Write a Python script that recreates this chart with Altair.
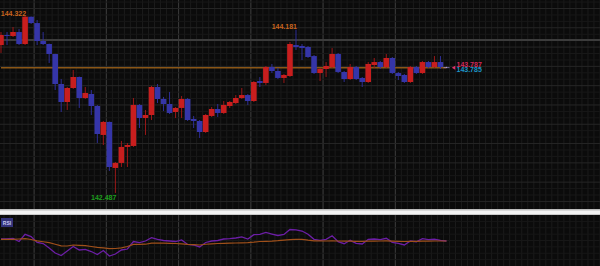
import altair as alt
import pandas as pd
import numpy as np

# ---------------- data ----------------
opens = [144.021, 144.125, 144.115, 144.156, 144.032, 144.315, 144.249, 144.063, 144.032, 143.928,
         143.617, 143.431, 143.576, 143.690, 143.472, 143.514, 143.389, 143.089, 143.224, 142.747,
         142.799, 142.965, 142.975, 143.400, 143.265, 143.296, 143.586, 143.462, 143.410, 143.327,
         143.369, 143.462, 143.255, 143.234, 143.120, 143.286, 143.358, 143.317, 143.389, 143.420,
         143.472, 143.503, 143.441, 143.648, 143.628, 143.793, 143.752, 143.680, 143.700, 144.021,
         144.011, 144.001, 143.907, 143.731, 143.773, 143.793, 143.928, 143.742, 143.669, 143.793,
         143.680, 143.638, 143.814, 143.845, 143.793, 143.887, 143.731, 143.711, 143.638, 143.793,
         143.731, 143.845, 143.793, 143.845, 143.787]
highs = [144.156, 144.156, 144.208, 144.187, 144.322, 144.317, 144.281, 144.156, 144.036, 143.930,
         143.669, 143.586, 143.762, 143.695, 143.586, 143.555, 143.400, 143.234, 143.228, 142.809,
         143.027, 143.006, 143.472, 143.410, 143.348, 143.597, 143.617, 143.483, 143.534, 143.379,
         143.493, 143.472, 143.286, 143.244, 143.306, 143.379, 143.410, 143.441, 143.441, 143.503,
         143.576, 143.514, 143.648, 143.690, 143.804, 143.825, 143.783, 143.721, 144.053, 144.181,
         144.032, 144.011, 143.918, 143.783, 143.845, 143.990, 143.939, 143.752, 143.825, 143.804,
         143.690, 143.845, 143.887, 143.856, 143.928, 143.897, 143.742, 143.721, 143.804, 143.804,
         143.856, 143.856, 143.907, 143.907, 143.795]
lows = [143.939, 144.021, 144.104, 144.021, 144.021, 144.239, 144.021, 144.021, 143.835, 143.555,
        143.327, 143.348, 143.566, 143.369, 143.462, 143.296, 143.006, 142.985, 142.716, 142.487,
        142.757, 142.757, 142.965, 143.161, 143.089, 143.244, 143.420, 143.337, 143.306, 143.265,
        143.265, 143.234, 143.161, 143.058, 143.110, 143.275, 143.275, 143.306, 143.369, 143.410,
        143.462, 143.400, 143.431, 143.586, 143.607, 143.731, 143.669, 143.628, 143.690, 143.970,
        143.866, 143.887, 143.721, 143.648, 143.690, 143.783, 143.731, 143.638, 143.659, 143.659,
        143.586, 143.628, 143.783, 143.773, 143.783, 143.721, 143.659, 143.628, 143.628, 143.721,
        143.721, 143.783, 143.783, 143.773, 143.783]
closes = [144.125, 144.115, 144.156, 144.032, 144.315, 144.249, 144.063, 144.032, 143.928, 143.617,
          143.431, 143.576, 143.690, 143.472, 143.524, 143.389, 143.099, 143.224, 142.757, 142.799,
          142.965, 142.985, 143.400, 143.265, 143.296, 143.586, 143.462, 143.410, 143.317, 143.369,
          143.462, 143.244, 143.234, 143.120, 143.296, 143.358, 143.317, 143.400, 143.431, 143.472,
          143.503, 143.441, 143.638, 143.628, 143.793, 143.752, 143.680, 143.711, 144.032, 144.001,
          143.990, 143.897, 143.731, 143.773, 143.804, 143.928, 143.742, 143.669, 143.793, 143.669,
          143.638, 143.825, 143.845, 143.793, 143.887, 143.731, 143.700, 143.638, 143.793, 143.731,
          143.845, 143.793, 143.845, 143.793, 143.787]
rsi_values = [52.9, 52.9, 53.9, 48.0, 62.2, 57.8, 46.1, 44.1, 35.3, 25.5,
              20.6, 29.4, 38.2, 31.4, 32.7, 28.4, 22.5, 30.4, 19.6, 23.5,
              31.4, 33.3, 48.0, 45.7, 49.0, 55.5, 52.0, 50.0, 49.0, 48.0,
              51.0, 42.2, 41.2, 37.3, 46.1, 49.0, 50.0, 52.9, 53.5, 54.9,
              56.9, 52.9, 61.4, 62.2, 65.7, 62.7, 59.8, 61.8, 71.6, 71.0,
              68.6, 62.2, 52.4, 50.4, 52.4, 59.4, 47.6, 43.7, 50.4, 44.5,
              43.1, 52.4, 52.9, 51.6, 54.3, 46.5, 44.5, 41.2, 49.0, 47.6,
              53.5, 51.6, 52.4, 50.4, 49.0]
rsi_signal = [52.4, 52.4, 52.4, 52.9, 53.5, 52.0, 49.4, 47.5, 45.7, 42.7,
              39.6, 39.2, 41.2, 40.6, 39.8, 38.2, 36.7, 35.7, 34.1, 34.3,
              35.7, 38.2, 42.4, 42.5, 42.7, 44.7, 44.9, 44.7, 44.5, 44.1,
              43.3, 42.5, 42.0, 41.2, 42.7, 43.5, 44.1, 44.5, 44.9, 45.1,
              45.5, 45.7, 46.7, 48.0, 48.4, 48.8, 49.6, 50.8, 51.6, 52.2,
              52.2, 50.6, 49.4, 49.2, 49.0, 49.4, 49.0, 48.6, 48.8, 48.4,
              48.2, 48.6, 48.8, 49.0, 49.2, 48.8, 48.4, 48.0, 48.2, 48.2,
              48.6, 48.8, 49.0, 49.0, 49.0]
ref_levels = [144.073]
last_quote = [143.787, 143.785]      # bid, ask
hi_label_idx = [4, 49]
lo_label_idx = [19]

# ---------------- tables ----------------
n = len(opens)
candle_idx = list(range(n))
df = pd.DataFrame({"i": candle_idx, "open": opens, "high": highs, "low": lows,
                   "close": closes, "rsi": rsi_values, "signal": rsi_signal})
df["dir"] = np.where(df["close"] > df["open"], "up",
                     np.where(df["close"] < df["open"], "down", "flat"))

hi_df = pd.DataFrame({"i": hi_label_idx, "price": [highs[k] for k in hi_label_idx]})
hi_df["txt"] = hi_df["price"].map(lambda v: f"{v:.3f}")
lo_df = pd.DataFrame({"i": lo_label_idx, "price": [lows[k] for k in lo_label_idx]})
lo_df["txt"] = lo_df["price"].map(lambda v: f"{v:.3f}")
cur_df = pd.DataFrame({"start": [candle_idx[0]], "end": [candle_idx[-1]], "price": [last_quote[0]]})
ref_df = pd.DataFrame({"level": ref_levels})
bid_df = pd.DataFrame({"i": [candle_idx[-1]], "price": [last_quote[0]], "txt": [f"{last_quote[0]:.3f}"]})
ask_df = pd.DataFrame({"i": [candle_idx[-1]], "price": [last_quote[1]], "txt": [f"{last_quote[1]:.3f}"]})
one = pd.DataFrame({"k": [0]})

# background grid (decoration): one faint line per candle slot, a brighter one every 12 slots,
# price lines every 1/15 with a slightly brighter one every 0.2
vgrid_minor = pd.DataFrame({"g": np.arange(-0.5, 100, 1.0)})
vgrid_major = pd.DataFrame({"g": np.arange(5.5, 66, 12.0)})
pgrid = pd.DataFrame({"g": np.round(142.4 + np.arange(32) / 15, 4)})
pgrid["major"] = (np.abs(pgrid["g"] * 5 - np.round(pgrid["g"] * 5)) < 0.01)
rgrid = pd.DataFrame({"g": np.arange(12.5, 100, 12.5)})

# ---------------- scales ----------------
X_SCALE = alt.Scale(domain=[-0.166, 99.5], nice=False, zero=False, padding=0, range=[0, 600])
P_SCALE = alt.Scale(domain=[142.332, 144.488], nice=False, zero=False, padding=0, range=[208, 0])
R_SCALE = alt.Scale(domain=[0, 100], nice=False, zero=False, padding=0, range=[266, 215])

body_colors = alt.Scale(domain=["up", "down", "flat"], range=["#c81e1e", "#3535a8", "#a898d8"])
wick_colors = alt.Scale(domain=["up", "down", "flat"], range=["#9a1818", "#2e2e96", "#a898d8"])

FONT = "Liberation Sans"

# ---------------- grid ----------------
vg_minor = alt.Chart(vgrid_minor).mark_rule(color="#1b1b1b", strokeWidth=1).encode(
    x=alt.X("g:Q", scale=X_SCALE, axis=None))
vg_major = alt.Chart(vgrid_major).mark_rule(color="#3a3a3a", strokeWidth=1).encode(
    x=alt.X("g:Q", scale=X_SCALE, axis=None))
pg = alt.Chart(pgrid).mark_rule(strokeWidth=1).encode(
    y=alt.Y("g:Q", scale=P_SCALE, axis=None),
    stroke=alt.condition("datum.major", alt.value("#262626"), alt.value("#181818")))

# ---------------- price panel ----------------
ref_rule = alt.Chart(ref_df).mark_rule(color="#3c3c3c", strokeWidth=2).encode(
    x=alt.value(0), x2=alt.value(600),
    y=alt.Y("level:Q", scale=P_SCALE, axis=None))
cur_rule = alt.Chart(cur_df).mark_rule(color="#8a5616", strokeWidth=1.5).encode(
    x=alt.X("start:Q", scale=X_SCALE, axis=None), x2="end:Q",
    y=alt.Y("price:Q", scale=P_SCALE, axis=None))
wicks = alt.Chart(df).mark_rule(strokeWidth=1).encode(
    x=alt.X("i:Q", scale=X_SCALE, axis=None),
    y=alt.Y("low:Q", scale=P_SCALE, axis=None),
    y2="high:Q",
    stroke=alt.Stroke("dir:N", scale=wick_colors, legend=None))
bodies = alt.Chart(df).mark_bar(size=5.6, orient="vertical").encode(
    x=alt.X("i:Q", scale=X_SCALE, axis=None),
    y=alt.Y("open:Q", scale=P_SCALE, axis=None),
    y2="close:Q",
    fill=alt.Fill("dir:N", scale=body_colors, legend=None))
doji = alt.Chart(df).transform_filter("datum.open == datum.close").mark_tick(
    orient="horizontal", size=6, thickness=1, color="#a898d8").encode(
    x=alt.X("i:Q", scale=X_SCALE, axis=None),
    y=alt.Y("close:Q", scale=P_SCALE, axis=None))
hi_text = alt.Chart(hi_df).mark_text(
    align="right", baseline="alphabetic", dx=1, dy=-0.5, font=FONT, fontSize=7,
    fontWeight="bold", color="#c8641e").encode(
    x=alt.X("i:Q", scale=X_SCALE, axis=None),
    y=alt.Y("price:Q", scale=P_SCALE, axis=None), text="txt:N")
lo_text = alt.Chart(lo_df).mark_text(
    align="right", baseline="top", dx=1, dy=1, font=FONT, fontSize=7,
    fontWeight="bold", color="#1e9e1e").encode(
    x=alt.X("i:Q", scale=X_SCALE, axis=None),
    y=alt.Y("price:Q", scale=P_SCALE, axis=None), text="txt:N")
marker = alt.Chart(bid_df).mark_point(
    shape="triangle-left", filled=True, size=16, color="#e0306a", opacity=1, xOffset=7).encode(
    x=alt.X("i:Q", scale=X_SCALE, axis=None),
    y=alt.Y("price:Q", scale=P_SCALE, axis=None))
bid_text = alt.Chart(bid_df).mark_text(
    align="left", baseline="alphabetic", dx=10, dy=-1, font=FONT, fontSize=7,
    fontWeight="bold", color="#d2285a").encode(
    x=alt.X("i:Q", scale=X_SCALE, axis=None),
    y=alt.Y("price:Q", scale=P_SCALE, axis=None), text="txt:N")
ask_text = alt.Chart(ask_df).mark_text(
    align="left", baseline="top", dx=10, dy=-1.5, font=FONT, fontSize=7,
    fontWeight="bold", color="#1e96c8").encode(
    x=alt.X("i:Q", scale=X_SCALE, axis=None),
    y=alt.Y("price:Q", scale=P_SCALE, axis=None), text="txt:N")

price = alt.layer(vg_minor, vg_major, pg, ref_rule, cur_rule, wicks, bodies, doji,
                  hi_text, lo_text, marker, bid_text, ask_text)

# ---------------- RSI panel ----------------
rg = alt.Chart(rgrid).mark_rule(color="#171717", strokeWidth=1).encode(
    y=alt.Y("g:Q", scale=R_SCALE, axis=None))
rsi_line = alt.Chart(df).mark_line(color="#6c1ea6", strokeWidth=1.3).encode(
    x=alt.X("i:Q", scale=X_SCALE, axis=None),
    y=alt.Y("rsi:Q", scale=R_SCALE, axis=None))
sig_line = alt.Chart(df).mark_line(color="#a0501a", strokeWidth=1.2).encode(
    x=alt.X("i:Q", scale=X_SCALE, axis=None),
    y=alt.Y("signal:Q", scale=R_SCALE, axis=None))
rsi_box = alt.Chart(one).mark_rect(fill="#33337a").encode(
    x=alt.value(1), x2=alt.value(13), y=alt.value(218), y2=alt.value(227))
rsi_lbl = alt.Chart(one).mark_text(
    text="RSI", fontSize=5, font=FONT, fontWeight="bold", color="#c8c8f0",
    align="center", baseline="middle").encode(x=alt.value(7), y=alt.value(222.5))

rsi = alt.layer(rg, rsi_line, sig_line, rsi_box, rsi_lbl)

# ---------------- separator ----------------
sep_grey = alt.Chart(one).mark_rect(fill="#bdbdbd").encode(
    x=alt.value(0), x2=alt.value(600), y=alt.value(209), y2=alt.value(215))
sep_white = alt.Chart(one).mark_rect(fill="#f2f2f2").encode(
    x=alt.value(0), x2=alt.value(600), y=alt.value(210.5), y2=alt.value(214.3))

chart = alt.layer(price, rsi, sep_grey, sep_white).resolve_scale(
    y="independent"
).properties(
    width=600, height=266,
    padding={"left": 0, "right": 0, "top": 0, "bottom": 0},
    autosize=alt.AutoSizeParams(type="none", contains="padding"),
    background="#0b0b0b"
).configure_view(strokeWidth=0)

chart.save("out.html", embed_options={"renderer": "svg", "actions": False})
